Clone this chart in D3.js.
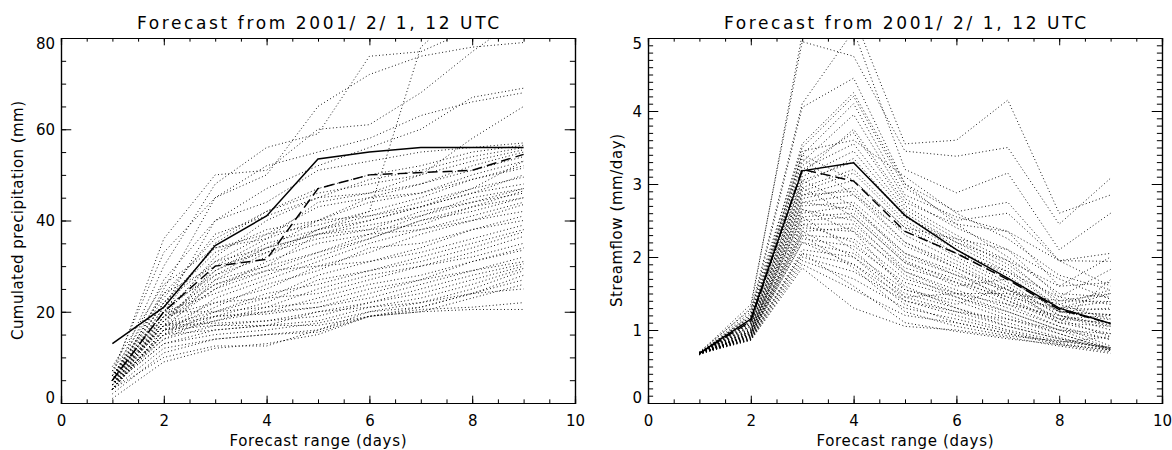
<!DOCTYPE html>
<html>
<head>
<meta charset="utf-8">
<script src="https://cdn.jsdelivr.net/npm/d3@7"></script>
<style>
  body { margin: 0; background: #fff; }
  svg { display: block; }
  text { font-family: "DejaVu Sans", sans-serif; fill: #000; }
</style>
</head>
<body>
<svg width="1172" height="450"></svg>
<script>
// forecast days
const days = [1, 2, 3, 4, 5, 6, 7, 8, 9]
const titleText = 'Forecast from 2001/ 2/ 1, 12 UTC'
const xTicks = [0, 2, 4, 6, 8, 10]

// left panel: cumulated precipitation (mm)
const precipTicks = [0, 20, 40, 60, 80]
const precipSolid = [13, 21, 34.5, 41, 53.5, 55, 56, 56, 56]
const precipDash = [5, 20, 30, 31.5, 47, 50, 50.5, 51, 54.5]
const precipMembers = [
    [6, 36, 50, 51, 60, 61, 68, 77, 85],
    [5, 30, 48, 56, 59, 76, 77, 82, 84],
    [7, 33, 45, 50, 65, 72, 76, 78, 79],
    [5, 27, 40, 47, 52, 56, 60, 67, 69],
    [4, 25, 45, 52, 55, 58, 63, 66, 68],
    [6, 22, 34, 37, 39, 42, 78, 88, 90],
    [5, 24, 36, 42, 46, 48, 50, 58, 65],
    [4, 21, 40, 44, 51, 53, 55, 56, 57],
    [5, 20, 35, 42, 47, 50, 52, 55, 56.5],
    [3, 19, 32, 40, 45, 49, 51, 54, 56],
    [6, 23, 37, 41, 45, 46, 50, 53, 55.5],
    [5, 18, 28, 34, 40, 45, 48, 52, 55],
    [4, 17, 30, 36, 44, 46, 48, 51, 54],
    [5, 20, 31, 37, 43, 45, 46, 50, 53],
    [3, 16, 27, 33, 38, 42, 45, 49, 51.5],
    [6, 22, 33, 38, 40, 41, 44, 47, 49.5],
    [4, 19, 26, 30, 37, 40, 43, 46, 48],
    [5, 17, 25, 31, 35, 37, 41, 45, 47],
    [3, 18, 29, 34, 37, 38, 39, 43, 46.5],
    [5, 20, 24, 28, 32, 36, 40, 42, 45],
    [4, 15, 23, 27, 31, 35, 38, 41, 44],
    [6, 19, 27, 30, 33, 37, 38, 40, 43.5],
    [5, 17, 22, 25, 30, 33, 37, 40, 42],
    [3, 16, 21, 26, 29, 34, 35, 38, 41],
    [4, 18, 25, 29, 30, 31, 34, 38, 40],
    [5, 20, 20, 23, 28, 31, 33, 36, 39],
    [6, 17, 19, 22, 27, 29, 32, 35, 38],
    [4, 15, 20, 24, 26, 29, 31, 34, 37.5],
    [3, 16, 18, 21, 25, 28, 30, 33, 36.5],
    [5, 19, 22, 23, 24, 27, 30, 32, 35],
    [4, 14, 19, 20, 23, 26, 28, 31, 34],
    [6, 17, 20, 21, 22, 25, 27, 31, 33.5],
    [5, 15, 18, 20, 21, 24, 27, 29, 32],
    [3, 16, 19, 19.5, 21, 23, 26, 29, 31],
    [4, 17, 17.5, 18, 20, 22, 25, 28, 30.5],
    [5, 14, 17, 18, 19, 22, 24, 27, 30],
    [3, 15, 16, 17, 18, 21, 23, 26, 29.5],
    [4, 13, 15, 16, 17.5, 20, 22, 25, 29],
    [6, 16, 17, 17, 17, 19, 21, 24, 28],
    [3, 12, 14, 15, 16, 20, 21, 24, 27],
    [2, 11, 14, 15, 15.5, 19, 20, 23, 26],
    [4, 13, 16, 17, 20, 21, 22, 24, 25],
    [3, 10, 12.5, 12.5, 16, 19, 20.5, 21, 22],
    [1, 9, 12, 13, 15, 19, 20, 20.5, 20.5],
    [7, 24, 30, 33, 36, 38, 42, 44, 47],
    [8, 26, 34, 36, 40, 44, 46, 49, 52],
    [5, 21, 28, 32, 38, 40, 43, 46, 50],
    [4, 18, 26, 29, 33, 36, 40, 43, 45],
    [6, 20, 29, 35, 38, 41, 43, 47, 53],
    [5, 22, 31, 34, 37, 39, 41, 44, 46]
]

// right panel: streamflow (mm/day)
const flowTicks = [0, 1, 2, 3, 4, 5]
const flowSolid = [0.68, 1.15, 3.18, 3.29, 2.57, 2.1, 1.71, 1.3, 1.09]
const flowDash = [0.68, 1.12, 3.2, 3.04, 2.35, 2.05, 1.69, 1.28, 1.09]
const flowMembers = [
    [0.68, 1.30, 5.05, 5.3, 3.55, 3.60, 4.15, 2.60, 2.85],
    [0.69, 1.35, 4.95, 4.75, 3.45, 3.38, 3.50, 2.45, 3.08],
    [0.67, 1.25, 4.10, 5.1, 3.20, 2.88, 3.15, 2.10, 2.60],
    [0.68, 1.20, 4.05, 4.45, 3.00, 2.62, 2.75, 1.95, 2.05],
    [0.70, 1.28, 3.50, 4.20, 2.95, 2.50, 2.60, 1.95, 1.94],
    [0.66, 1.22, 3.40, 4.10, 2.85, 2.55, 2.35, 1.60, 2.00],
    [0.68, 1.18, 3.30, 3.95, 2.80, 2.40, 2.10, 1.45, 1.83],
    [0.69, 1.15, 3.25, 3.70, 2.70, 2.30, 1.95, 1.35, 1.55],
    [0.67, 1.10, 3.20, 3.55, 2.65, 2.25, 1.90, 1.40, 1.50],
    [0.68, 1.12, 3.10, 3.45, 2.60, 2.20, 1.85, 1.30, 1.39],
    [0.68, 1.08, 3.05, 3.30, 2.55, 2.15, 1.80, 1.30, 1.28],
    [0.67, 1.05, 2.95, 3.20, 2.50, 2.10, 1.75, 1.25, 1.21],
    [0.69, 1.02, 2.90, 3.15, 2.45, 2.05, 1.70, 1.25, 1.14],
    [0.68, 1.00, 2.85, 3.05, 2.40, 2.00, 1.65, 1.20, 1.07],
    [0.70, 0.98, 2.80, 2.95, 2.30, 1.95, 1.60, 1.20, 1.00],
    [0.66, 0.96, 2.75, 2.85, 2.20, 1.90, 1.55, 1.15, 0.91],
    [0.68, 0.95, 2.70, 2.75, 2.15, 1.85, 1.50, 1.15, 1.10],
    [0.68, 0.94, 2.60, 2.70, 2.05, 1.75, 1.45, 1.10, 1.05],
    [0.67, 0.93, 2.50, 2.55, 1.92, 1.70, 1.40, 1.10, 0.95],
    [0.69, 0.92, 2.45, 2.45, 1.85, 1.65, 1.35, 1.05, 0.87],
    [0.68, 0.91, 2.40, 2.35, 1.80, 1.55, 1.30, 1.05, 0.78],
    [0.67, 0.90, 2.30, 2.25, 1.70, 1.50, 1.25, 1.00, 0.75],
    [0.68, 0.90, 2.25, 2.15, 1.65, 1.45, 1.20, 0.95, 0.73],
    [0.69, 0.89, 2.20, 2.05, 1.55, 1.40, 1.15, 0.95, 0.74],
    [0.68, 0.88, 2.10, 2.00, 1.50, 1.30, 1.10, 0.90, 0.72],
    [0.67, 0.88, 2.05, 1.90, 1.45, 1.25, 1.05, 0.88, 0.76],
    [0.68, 0.87, 2.00, 1.80, 1.40, 1.20, 1.00, 0.85, 0.75],
    [0.69, 0.87, 1.95, 1.70, 1.30, 1.15, 0.98, 0.82, 0.72],
    [0.68, 0.86, 1.90, 1.55, 1.20, 1.10, 0.95, 0.80, 0.70],
    [0.67, 0.86, 1.85, 1.30, 1.05, 1.00, 0.90, 0.78, 0.68],
    [0.68, 0.95, 2.65, 2.35, 1.55, 1.35, 1.60, 1.10, 1.69],
    [0.68, 1.00, 2.55, 2.10, 1.45, 1.50, 1.50, 1.40, 1.39],
    [0.69, 1.05, 2.95, 2.55, 1.92, 1.60, 1.70, 1.25, 1.21],
    [0.67, 0.97, 2.35, 2.00, 1.40, 1.25, 1.15, 1.00, 0.87],
    [0.68, 1.08, 3.35, 2.85, 2.35, 2.05, 1.80, 1.45, 1.35],
    [0.68, 1.10, 3.45, 3.60, 3.10, 2.60, 2.25, 1.75, 1.55],
    [0.69, 1.18, 3.55, 4.25, 3.00, 2.45, 2.00, 1.50, 1.45],
    [0.67, 0.94, 2.20, 1.90, 1.35, 1.10, 0.95, 0.83, 0.91],
    [0.68, 0.92, 2.45, 2.20, 1.60, 1.30, 1.05, 0.88, 0.74],
    [0.68, 0.99, 2.75, 2.65, 2.05, 1.80, 1.40, 1.15, 1.20],
    [0.69, 1.03, 3.00, 3.35, 2.55, 2.20, 1.95, 1.60, 1.65],
    [0.67, 1.13, 3.15, 3.75, 2.75, 2.45, 2.35, 1.95, 1.60],
    [0.68, 0.96, 2.55, 2.60, 1.95, 1.65, 1.45, 1.30, 1.50],
    [0.68, 0.91, 2.35, 2.40, 1.75, 1.45, 1.25, 1.00, 0.95],
    [0.69, 1.01, 2.85, 2.90, 2.20, 1.85, 1.55, 1.25, 1.30],
    [0.67, 1.06, 3.05, 2.70, 2.00, 1.75, 1.55, 1.35, 1.15],
    [0.68, 0.89, 2.05, 1.60, 1.10, 0.98, 0.88, 0.80, 0.73],
    [0.68, 0.93, 2.30, 1.85, 1.25, 1.05, 0.92, 0.85, 0.76],
    [0.69, 1.16, 3.40, 3.05, 2.40, 2.25, 2.10, 1.70, 1.42],
    [0.67, 0.98, 2.65, 2.50, 1.80, 1.50, 1.35, 1.20, 1.05]
]

const svg = d3.select('svg')
const plotTop = 38
const plotBottom = 403
const labelHeight = 10.7

function panel({ id, left, right, yMax, yTicks, yMinor, yTitle, yTitleX, yTitleLength, members, solid, dash }) {
    const x = d3.scaleLinear().domain([0, 10]).range([left, right])
    const y = d3.scaleLinear().domain([0, yMax]).range([plotBottom, plotTop])
    const xLen = 0.02 * (plotBottom - plotTop)
    const yLen = 0.02 * (right - left)

    svg.append('clipPath').attr('id', id)
        .append('rect').attr('x', left).attr('y', plotTop)
        .attr('width', right - left).attr('height', plotBottom - plotTop)

    const line = d3.line().x((v, i) => x(days[i])).y(v => y(v))
    const plot = svg.append('g').attr('clip-path', `url(#${id})`)

    // ensemble members, dotted
    plot.append('g').selectAll('path').data(members).enter().append('path')
        .attr('d', line)
        .attr('fill', 'none')
        .attr('stroke', '#000')
        .attr('stroke-width', 1)
        .attr('stroke-dasharray', '0.9,2.6')

    plot.append('path').attr('d', line(dash))
        .attr('fill', 'none').attr('stroke', '#000')
        .attr('stroke-width', 1.5).attr('stroke-dasharray', '10,5')

    plot.append('path').attr('d', line(solid))
        .attr('fill', 'none').attr('stroke', '#000')
        .attr('stroke-width', 1.5)

    // axes: ticks point inward, minor ticks as separate axes
    const xMinor = d3.range(0, 10.01, 0.5)
    const yMinorTicks = d3.range(0, yMax + yMinor / 2, yMinor)
    const axes = [
        [d3.axisBottom(x).tickValues(xTicks).tickSize(-xLen).tickPadding(12).tickFormat(d3.format('d')), `translate(0,${plotBottom})`, 'xlab'],
        [d3.axisBottom(x).tickValues(xMinor).tickSize(-xLen / 2).tickFormat(''), `translate(0,${plotBottom})`, ''],
        [d3.axisTop(x).tickValues(xTicks).tickSize(-xLen).tickFormat(''), `translate(0,${plotTop})`, ''],
        [d3.axisTop(x).tickValues(xMinor).tickSize(-xLen / 2).tickFormat(''), `translate(0,${plotTop})`, ''],
        [d3.axisLeft(y).tickValues(yTicks).tickSize(-yLen).tickPadding(6).tickFormat(d3.format('d')), `translate(${left},0)`, 'ylab'],
        [d3.axisLeft(y).tickValues(yMinorTicks).tickSize(-yLen / 2).tickFormat(''), `translate(${left},0)`, ''],
        [d3.axisRight(y).tickValues(yTicks).tickSize(-yLen).tickFormat(''), `translate(${right},0)`, ''],
        [d3.axisRight(y).tickValues(yMinorTicks).tickSize(-yLen / 2).tickFormat(''), `translate(${right},0)`, '']
    ]
    axes.forEach(([axis, transform, cls]) => {
        const g = svg.append('g').attr('transform', transform).attr('class', cls).call(axis)
        g.selectAll('.domain').attr('stroke', '#000').attr('stroke-width', 1.2)
        g.selectAll('.tick line').attr('stroke', '#000').attr('stroke-width', 1)
        g.selectAll('text').attr('font-size', 15).attr('font-family', '"DejaVu Sans", sans-serif').attr('fill', '#000')

        // IDL keeps the end labels of the y axis inside the plot box
        if (cls === 'ylab') {
            g.selectAll('.tick text').attr('dy', d => {
                const py = y(d)
                const cy = Math.max(plotTop + labelHeight / 2, Math.min(plotBottom - labelHeight / 2, py))
                return (cy - py + 5.3) + 'px'
            })
        }
    })

    svg.append('text')
        .attr('x', (left + right) / 2).attr('y', 29)
        .attr('text-anchor', 'middle').attr('font-size', 17)
        .attr('textLength', 362).attr('lengthAdjust', 'spacing')
        .text(titleText)

    svg.append('text')
        .attr('x', (left + right) / 2).attr('y', 446)
        .attr('text-anchor', 'middle').attr('font-size', 15)
        .attr('textLength', 177).attr('lengthAdjust', 'spacing')
        .text('Forecast range (days)')

    svg.append('text')
        .attr('transform', `translate(${yTitleX},${(plotTop + plotBottom) / 2}) rotate(-90)`)
        .attr('text-anchor', 'middle').attr('font-size', 15)
        .attr('textLength', yTitleLength).attr('lengthAdjust', 'spacing')
        .text(yTitle)
}

panel({
    id: 'clip-precip', left: 61, right: 575, yMax: 80, yTicks: precipTicks, yMinor: 5,
    yTitle: 'Cumulated precipitation (mm)', yTitleX: 23, yTitleLength: 239,
    members: precipMembers, solid: precipSolid, dash: precipDash
})

panel({
    id: 'clip-flow', left: 648, right: 1162, yMax: 5, yTicks: flowTicks, yMinor: 0.1,
    yTitle: 'Streamflow (mm/day)', yTitleX: 622, yTitleLength: 173,
    members: flowMembers, solid: flowSolid, dash: flowDash
})
</script>
</body>
</html>
